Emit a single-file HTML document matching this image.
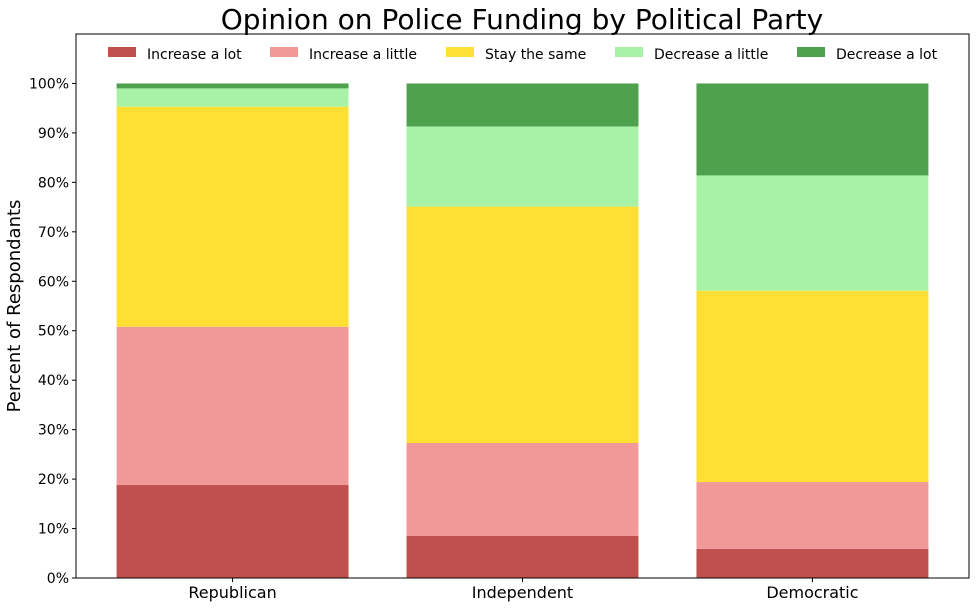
<!DOCTYPE html>
<html><head><meta charset="utf-8">
<style>
body{margin:0;background:#fff;font-family:"Liberation Sans","DejaVu Sans",sans-serif;}
svg text{font-family:"DejaVu Sans","Liberation Sans",sans-serif;}
</style></head>
<body>
<svg id="chart" width="976" height="607">
<text x="522" y="29" font-size="28" text-anchor="middle" fill="#000">Opinion on Police Funding by Political Party</text>
<text transform="translate(20,306) rotate(-90)" font-size="18" text-anchor="middle">Percent of Respondants</text>
<g id="bars"></g>
<g id="axes"></g>
<g id="legend"></g>
</svg>
<script>
const categories = ["Republican","Independent","Democratic"];
const seriesNames = ["Increase a lot","Increase a little","Stay the same","Decrease a little","Decrease a lot"];
const increaseLot = [18.8, 8.5, 5.9];
const increaseLittle = [32.0, 18.8, 13.5];
const staySame = [44.5, 47.8, 38.7];
const decreaseLittle = [3.7, 16.2, 23.3];
const decreaseLot = [1.0, 8.7, 18.6];
const yTicks = [0,10,20,30,40,50,60,70,80,90,100];
const colors = ["#c0504d","#f19999","#ffdf33","#a8f2a8","#4ea24e"];
const series = [increaseLot, increaseLittle, staySame, decreaseLittle, decreaseLot];

const L=76,R=969,T=34,B=578;
const xMin=-0.54,xMax=2.54,yMax=110;
const xs=v=>L+(v-xMin)/(xMax-xMin)*(R-L);
const ys=v=>B-v/yMax*(B-T);
const NS="http://www.w3.org/2000/svg";
function mk(tag,attrs,parent){const e=document.createElementNS(NS,tag);for(const k in attrs)e.setAttribute(k,attrs[k]);parent.appendChild(e);return e;}
const bars=document.getElementById('bars'),axes=document.getElementById('axes'),legend=document.getElementById('legend');

categories.forEach((c,i)=>{
  let base=0;
  series.forEach((s,j)=>{
    const x0=xs(i-0.4),x1=xs(i+0.4);
    const r=mk('rect',{x:x0,y:ys(base+s[i]),width:x1-x0,height:ys(base)-ys(base+s[i]),fill:colors[j]},bars);
    
    
    base+=s[i];
  });
  const t=mk('text',{x:xs(i),y:B+20,'font-size':16,'text-anchor':'middle'},axes);
  t.textContent=c;
  
  
  mk('line',{x1:xs(i),x2:xs(i),y1:B,y2:B+4,stroke:'#000'},axes);
});
yTicks.forEach(v=>{
  mk('line',{x1:L-4,x2:L,y1:ys(v),y2:ys(v),stroke:'#000'},axes);
  const t=mk('text',{x:L-7,y:ys(v)+5,'font-size':14,'text-anchor':'end'},axes);
  t.textContent=v+'%';
  
  
});
const frame=mk('rect',{x:L,y:T,width:R-L,height:B-T,fill:'none',stroke:'#000','stroke-width':1},axes);



const lx=[108,270,446,615,797];
seriesNames.forEach((n,j)=>{
  const g=mk('g',{},legend);
  
  
  mk('rect',{x:lx[j],y:47,width:28,height:10,fill:colors[j]},g);
  const t=mk('text',{x:lx[j]+39,y:59,'font-size':14},g);
  t.textContent=n;
});
</script>
</body></html>
